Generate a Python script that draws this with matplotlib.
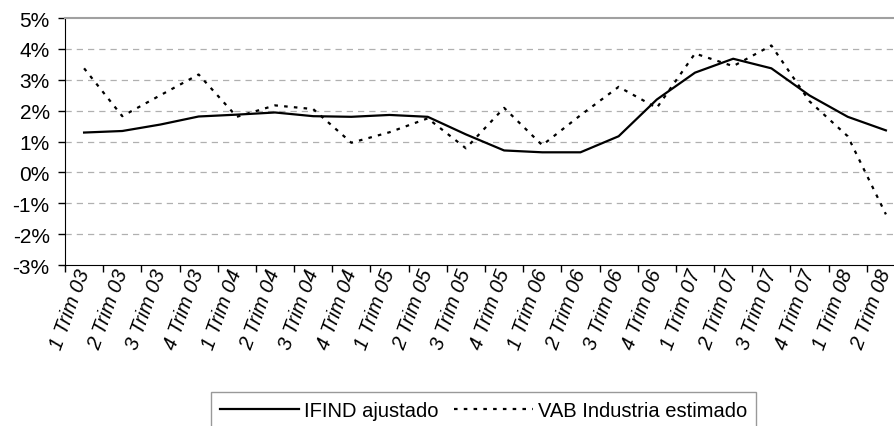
import matplotlib
matplotlib.use("Agg")
import matplotlib.pyplot as plt
import matplotlib.transforms as mtransforms
from matplotlib.ticker import FixedLocator, FuncFormatter

categories = ["1 Trim 03", "2 Trim 03", "3 Trim 03", "4 Trim 03",
              "1 Trim 04", "2 Trim 04", "3 Trim 04", "4 Trim 04",
              "1 Trim 05", "2 Trim 05", "3 Trim 05", "4 Trim 05",
              "1 Trim 06", "2 Trim 06", "3 Trim 06", "4 Trim 06",
              "1 Trim 07", "2 Trim 07", "3 Trim 07", "4 Trim 07",
              "1 Trim 08", "2 Trim 08"]
ifind = [1.29, 1.34, 1.55, 1.81, 1.87, 1.94, 1.82, 1.80, 1.86, 1.80,
         1.23, 0.71, 0.65, 0.65, 1.17, 2.36, 3.23, 3.68, 3.37, 2.49,
         1.80, 1.36]
vab = [3.37, 1.82, 2.50, 3.17, 1.80, 2.17, 2.05, 0.96, 1.30, 1.75,
       0.78, 2.09, 0.88, 1.85, 2.77, 2.09, 3.85, 3.44, 4.11, 2.30,
       1.17, -1.36]
yticks = [-3, -2, -1, 0, 1, 2, 3, 4, 5]

W, H = 895, 427
fig = plt.figure(figsize=(W / 100, H / 100), dpi=100)
plt.rcParams['font.family'] = ['Liberation Sans', 'DejaVu Sans']
ax = fig.add_axes([65 / W, (H - 266) / H, (905 - 65) / W, (266 - 19) / H])

x = list(range(len(categories)))
ax.plot(x, ifind, color='black', lw=1.6, label='IFIND ajustado')
ax.plot(x, vab, color='black', lw=1.6, ls=(0, (1.6, 2.8)),
        label='VAB Industria estimado')

ax.set_xlim(-0.5, len(categories) - 0.5)
ax.set_ylim(-3, 5)
ax.yaxis.set_major_locator(FixedLocator(yticks))
ax.yaxis.set_major_formatter(FuncFormatter(lambda v, p: f"{v:.0f}%"))
for v in yticks[1:-1]:
    ax.axhline(v, color='#b0b0b0', lw=0.9, ls=(0, (5, 4)), zorder=0)

ax.set_xticks([i - 0.5 for i in range(len(categories) + 1)])
ax.set_xticklabels([])
ax.set_xticks(x, minor=True)
ax.set_xticklabels(categories, minor=True, rotation=70, ha='right',
                   va='center', rotation_mode='anchor', fontsize=14.5,
                   style='italic')
offset = mtransforms.ScaledTranslation(-5 / 100, 0, fig.dpi_scale_trans)
for lab in ax.get_xticklabels(minor=True):
    lab.set_transform(lab.get_transform() + offset)
ax.tick_params(axis='x', which='minor', length=0, pad=3)
ax.tick_params(axis='x', which='major', length=5, width=1, direction='out')
ax.tick_params(axis='y', length=5, width=1, direction='out', labelsize=15,
               pad=6)

ax.spines['left'].set_color('black')
ax.spines['bottom'].set_color('black')
ax.spines['top'].set_color('#a0a0a0')
ax.spines['top'].set_linewidth(1.5)
ax.spines['right'].set_color('#a0a0a0')

leg = fig.legend(loc='upper center', bbox_to_anchor=(483.5 / W, 1 - 393 / H),
                 ncol=2, frameon=True, fancybox=False, edgecolor='#808080',
                 fontsize=14.5, handlelength=3.9, columnspacing=0.8,
                 handletextpad=0.25, borderpad=0.45, borderaxespad=0)
leg.get_frame().set_linewidth(1.0)

fig.savefig('out.png', dpi=100)
